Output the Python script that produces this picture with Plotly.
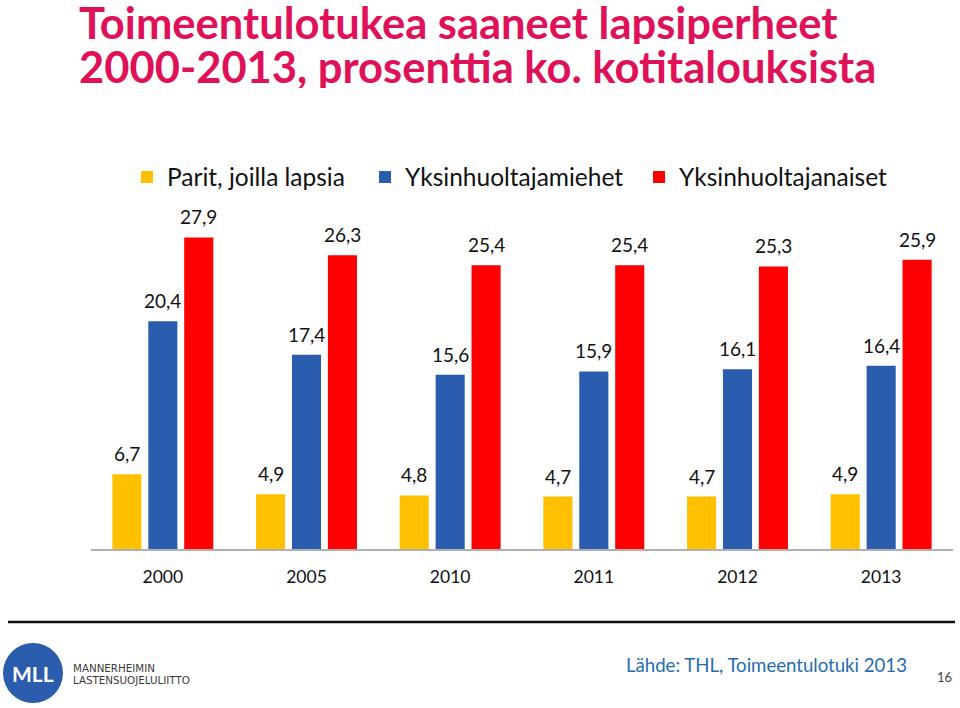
import plotly.graph_objects as go

# ---- data ----
years = ["2000", "2005", "2010", "2011", "2012", "2013"]
series_names = ["Parit, joilla lapsia", "Yksinhuoltajamiehet", "Yksinhuoltajanaiset"]
parit = [6.7, 4.9, 4.8, 4.7, 4.7, 4.9]
miehet = [20.4, 17.4, 15.6, 15.9, 16.1, 16.4]
naiset = [27.9, 26.3, 25.4, 25.4, 25.3, 25.9]
colors = ["#FFC000", "#2A5DAD", "#FF0000"]

title_lines = ["Toimeentulotukea saaneet lapsiperheet", "2000-2013, prosenttia ko. kotitalouksista"]
source_text = "Lähde: THL, Toimeentulotuki 2013"
page_no = "16"

W, H = 960, 708
ML, MR, MT, MB = 91, 7, 214, 159
PW, PH = W - ML - MR, H - MT - MB

def px(x):
    return (x - ML) / PW

def py(y):
    return (H - MB - y) / PH

FONT = "Lato, Open Sans, sans-serif"

fig = go.Figure()
all_vals = [parit, miehet, naiset]
legend_ids = ["legend", "legend2", "legend3"]
for name, vals, col, lg in zip(series_names, all_vals, colors, legend_ids):
    fig.add_trace(go.Bar(x=years, y=vals, name=name, legend=lg,
                         marker=dict(color=col, line=dict(width=0))))

annotations = []
slot = PW / len(years) * 0.75 / 3
for i, vals in enumerate(all_vals):
    for j, v in enumerate(vals):
        annotations.append(dict(
            x=j, y=v, xref="x", yref="y", text=f"{v:.1f}".replace(".", ","),
            showarrow=False, xshift=(i - 1) * slot, yshift=7, yanchor="bottom",
            font=dict(family=FONT, size=19, color="#111111")))

# title lines
for line, yc in zip(title_lines, [22, 66]):
    annotations.append(dict(x=px(77), y=py(yc), xref="paper", yref="paper", text=f"<b>{line}</b>",
                            showarrow=False, xanchor="left", yanchor="middle", height=44,
                            valign="middle",
                            font=dict(family=FONT, size=43.5, color="#DF1159")))

# footer texts
annotations += [
    dict(x=px(33), y=py(673), xref="paper", yref="paper", text="<b>MLL</b>", showarrow=False,
         xanchor="center", yanchor="middle", font=dict(family=FONT, size=21, color="white")),
    dict(x=px(71), y=py(668), xref="paper", yref="paper", text="MANNERHEIMIN", showarrow=False,
         xanchor="left", yanchor="middle", font=dict(family="DejaVu Sans", size=10.3, color="#3a3a3a")),
    dict(x=px(71), y=py(680), xref="paper", yref="paper", text="LASTENSUOJELULIITTO", showarrow=False,
         xanchor="left", yanchor="middle", font=dict(family="DejaVu Sans", size=10.3, color="#3a3a3a")),
    dict(x=px(624), y=py(665), xref="paper", yref="paper", text=source_text, showarrow=False,
         xanchor="left", yanchor="middle", font=dict(family=FONT, size=18.6, color="#1F6DB0")),
    dict(x=px(954), y=py(677), xref="paper", yref="paper", text=page_no, showarrow=False,
         xanchor="right", yanchor="middle", font=dict(family=FONT, size=13, color="#444444")),
]

shapes = [
    dict(type="line", xref="paper", yref="paper", x0=px(8), x1=px(955), y0=py(622), y1=py(622),
         line=dict(color="#111111", width=2.5)),
    dict(type="circle", xref="paper", yref="paper", x0=px(3), x1=px(63), y0=py(703), y1=py(643),
         fillcolor="#2A5DAD", line=dict(width=0)),
]

legend_style = dict(orientation="h", xanchor="left", yanchor="middle", y=py(177),
                    font=dict(family=FONT, size=24.5, color="#111111"), bgcolor="rgba(0,0,0,0)")

fig.update_layout(
    width=W, height=H,
    margin=dict(l=ML, r=MR, t=MT, b=MB, autoexpand=False),
    paper_bgcolor="white", plot_bgcolor="white",
    barmode="group", bargap=0.25, bargroupgap=0.19,
    legend=dict(x=px(127), **legend_style),
    legend2=dict(x=px(365), **legend_style),
    legend3=dict(x=px(639), **legend_style),
    xaxis=dict(type="category", range=[-0.5, len(years) - 0.5], showline=True,
               linecolor="#B0B0B0", linewidth=1.5, ticks="",
               showgrid=False, tickfont=dict(family=FONT, size=17.5, color="#111111"),
               ticklabelstandoff=11, fixedrange=True),
    yaxis=dict(range=[0, 30], visible=False, showgrid=False, zeroline=False, fixedrange=True),
    annotations=annotations, shapes=shapes,
    showlegend=True,
)

fig.write_html("out.html", config={"displayModeBar": False},
               post_script="document.body.style.margin='0';")
